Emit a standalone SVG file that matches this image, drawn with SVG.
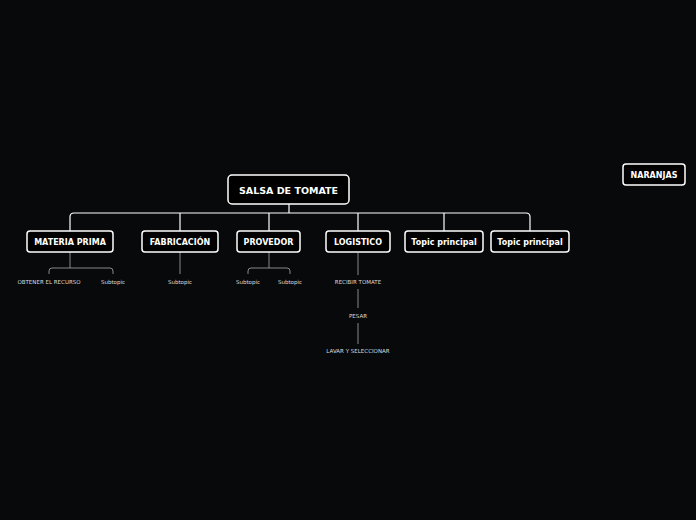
<svg xmlns="http://www.w3.org/2000/svg" width="696" height="520" viewBox="0 0 696 520">
<style>
.n rect{fill:#000;stroke:#fff;stroke-width:1.5}
.n text{fill:#fff;font-family:"DejaVu Sans",sans-serif;font-weight:bold;font-size:8px;text-anchor:middle}
.r text{font-size:9.5px}
.s{fill:#ddd;font-family:"DejaVu Sans",sans-serif;font-size:5.5px;text-anchor:middle}
.c path{fill:none;stroke:#fff;stroke-width:1.2}
.c .t{stroke:#aaa;stroke-width:0.8}
</style>
<rect width="696" height="520" fill="#08090b"/>
<g class="c">
<path d="M289 204V213M74 213H526M74 213Q70 213 70 217V231M180 213V231M269 213V231M358 213V231M444 213V231M526 213Q530 213 530 217V231"/>
<path class="t" d="M70 252V268M49 274V271Q49 268 52 268H110Q113 268 113 271V274M180 252V274M269 252V268M248 274V271Q248 268 251 268H287Q290 268 290 271V274M358 253V275M358 289V308M358 323V344"/>
</g>
<g id="root" class="n r"><rect x="228" y="175" width="121" height="29" rx="4"/><text x="288.5" y="193.5">SALSA DE TOMATE</text></g>
<g id="materia" class="n"><rect x="27" y="231" width="86" height="21" rx="3"/><text x="70" y="244.5">MATERIA PRIMA</text></g>
<g id="fab" class="n"><rect x="142" y="231" width="76" height="21" rx="3"/><text x="180" y="244.5">FABRICACIÓN</text></g>
<g id="prov" class="n"><rect x="237" y="231" width="63" height="21" rx="3"/><text x="268.5" y="244.5">PROVEDOR</text></g>
<g id="log" class="n"><rect x="326" y="231" width="64" height="21" rx="3"/><text x="358" y="244.5">LOGISTICO</text></g>
<g id="tp1" class="n"><rect x="405" y="231" width="78" height="21" rx="3"/><text x="444" y="244.5">Topic principal</text></g>
<g id="tp2" class="n"><rect x="491" y="231" width="78" height="21" rx="3"/><text x="530" y="244.5">Topic principal</text></g>
<g id="naranjas" class="n"><rect x="623" y="164" width="62" height="21" rx="3"/><text x="654" y="177.5">NARANJAS</text></g>
<g id="subs">
<text class="s" x="49" y="284">OBTENER EL RECURSO</text>
<text class="s" x="113" y="284">Subtopic</text>
<text class="s" x="180" y="284">Subtopic</text>
<text class="s" x="248" y="284">Subtopic</text>
<text class="s" x="290" y="284">Subtopic</text>
<text class="s" x="358" y="284">RECIBIR TOMATE</text>
<text class="s" x="358" y="318">PESAR</text>
<text class="s" x="358" y="353">LAVAR Y SELECCIONAR</text>
</g>
</svg>
